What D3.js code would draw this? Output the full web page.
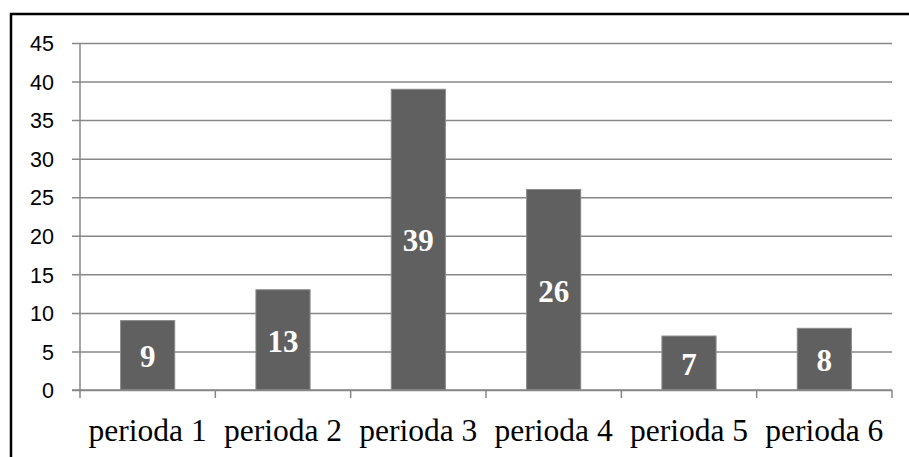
<!DOCTYPE html>
<html>
<head>
<meta charset="utf-8">
<script src="https://cdn.jsdelivr.net/npm/d3@7"></script>
<style>
  html, body { margin: 0; padding: 0; background: #fff; }
  svg { display: block; }
</style>
</head>
<body>
<div id="chart"></div>
<script>
// Chart data
const categories = ["perioda 1", "perioda 2", "perioda 3", "perioda 4", "perioda 5", "perioda 6"];
const values = [9, 13, 39, 26, 7, 8];
const yTicks = [0, 5, 10, 15, 20, 25, 30, 35, 40, 45];

const W = 909, H = 457;
const plot = { left: 80, right: 892, top: 43, bottom: 390 };

const svg = d3.select("#chart").append("svg")
  .attr("width", W).attr("height", H);

// Outer frame (left and top edges visible)
svg.append("path")
  .attr("d", `M11,${H + 5} L11,14 L${W + 5},14`)
  .attr("fill", "none")
  .attr("stroke", "#000")
  .attr("stroke-width", 2.5);

const x = d3.scaleBand()
  .domain(categories)
  .range([plot.left, plot.right])
  .paddingInner(0.6)
  .paddingOuter(0.3);

const y = d3.scaleLinear()
  .domain([0, 45])
  .range([plot.bottom, plot.top]);

const gridColor = "#878787";

// Horizontal gridlines with outward ticks
const yAxis = d3.axisLeft(y)
  .tickValues(yTicks)
  .tickSize(-(plot.right - plot.left))
  .tickSizeOuter(0)
  .tickFormat(d3.format("d"));

const gy = svg.append("g")
  .attr("transform", `translate(${plot.left},0)`)
  .call(yAxis);
gy.select(".domain").remove();
gy.selectAll(".tick line")
  .attr("x1", -8)
  .attr("stroke", gridColor)
  .attr("stroke-width", 1.5);
gy.selectAll(".tick text")
  .attr("x", -26)
  .attr("dy", "0.36em")
  .attr("fill", "#000")
  .style("font-family", "'Liberation Sans', Arial, sans-serif")
  .style("font-size", "21.5px");

// Vertical axis line
svg.append("line")
  .attr("x1", plot.left).attr("x2", plot.left)
  .attr("y1", plot.top).attr("y2", plot.bottom)
  .attr("stroke", gridColor).attr("stroke-width", 1.5);

// Bars
svg.append("g").selectAll("rect")
  .data(values)
  .join("rect")
  .attr("x", (d, i) => x(categories[i]))
  .attr("y", d => y(d))
  .attr("width", x.bandwidth())
  .attr("height", d => y(0) - y(d))
  .attr("fill", "#606060")
  .attr("stroke", "#8a8a8a")
  .attr("stroke-width", 1);

// Value labels inside bars
svg.append("g").selectAll("text")
  .data(values)
  .join("text")
  .attr("x", (d, i) => x(categories[i]) + x.bandwidth() / 2)
  .attr("y", d => (y(d) + y(0)) / 2)
  .attr("dy", "0.38em")
  .attr("text-anchor", "middle")
  .attr("fill", "#fff")
  .style("font-family", "'Liberation Serif', 'Times New Roman', serif")
  .style("font-weight", "bold")
  .style("font-size", "31px")
  .text(d => d);

// Category axis with boundary ticks
const step = x.step();
const boundaries = d3.range(categories.length + 1).map(i => plot.left + i * step);

svg.append("line")
  .attr("x1", plot.left - 8).attr("x2", plot.right)
  .attr("y1", plot.bottom).attr("y2", plot.bottom)
  .attr("stroke", gridColor).attr("stroke-width", 1.5);

svg.append("g").selectAll("line")
  .data(boundaries)
  .join("line")
  .attr("x1", d => d).attr("x2", d => d)
  .attr("y1", plot.bottom).attr("y2", plot.bottom + 8)
  .attr("stroke", gridColor).attr("stroke-width", 1.5);

svg.append("g").selectAll("text")
  .data(categories)
  .join("text")
  .attr("x", d => x(d) + x.bandwidth() / 2)
  .attr("y", 441)
  .attr("text-anchor", "middle")
  .attr("fill", "#000")
  .style("font-family", "'Liberation Serif', 'Times New Roman', serif")
  .style("font-size", "31.5px")
  .text(d => d);
</script>
</body>
</html>
